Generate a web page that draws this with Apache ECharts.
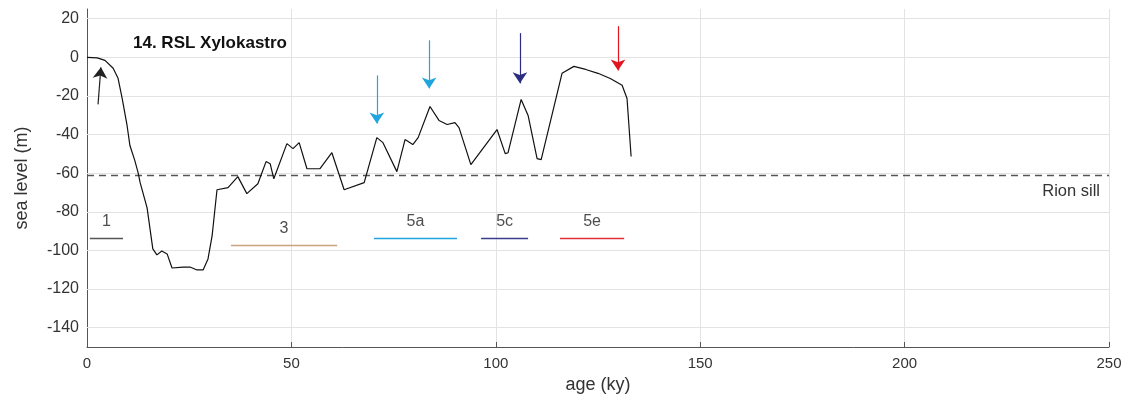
<!DOCTYPE html>
<html><head><meta charset="utf-8">
<script src="https://cdn.jsdelivr.net/npm/echarts@6/dist/echarts.min.js"></script>
<style>html,body{margin:0;padding:0;background:#fff}#c{width:1131px;height:402px}</style>
</head><body><div id="c"></div>
<script>
// ---- data ----
const ages = [0,2.5,4.4,6.4,7.6,8.6,9.8,10.5,11.7,12.5,13.0,14.7,16.1,17.1,18.3,19.6,20.8,23.5,25.2,26.9,28.4,29.6,30.6,31.8,34.5,36.9,39.1,41.8,43.8,44.8,45.7,48.9,50.4,51.9,53.8,57.0,59.9,62.9,67.8,70.9,72.4,75.8,77.8,79.7,81.0,83.9,86.1,88.1,90.0,91.0,93.9,100.3,102.3,103.0,106.2,107.9,110.1,111.1,116.2,119.1,122.0,125.0,128.0,130.9,132.1,133.1];
const seaLevel = [0,-0.3,-1.6,-5.7,-10.9,-21.3,-35.3,-45.7,-53.5,-59.7,-64.9,-78.0,-99.2,-102.3,-100.3,-101.8,-109.1,-108.6,-108.6,-110.1,-110.1,-104.4,-92.5,-68.6,-67.5,-61.8,-70.6,-65.5,-54.0,-55.1,-62.9,-44.7,-47.3,-44.2,-57.7,-57.7,-49.4,-68.6,-64.9,-41.6,-44.2,-59.2,-42.6,-45.2,-41.6,-25.5,-32.7,-34.8,-33.8,-36.4,-55.6,-37.4,-49.9,-49.4,-21.8,-30.1,-52.5,-53.0,-8.3,-4.7,-6.3,-8.3,-11.0,-14.5,-21.3,-51.4];
const rionSill = -61;
const yTicks = [20,0,-20,-40,-60,-80,-100,-120,-140];
const arrowAgesTail = [2.7,70.9,83.7,105.9,129.9];
const arrowAgesTip = [3.4,70.9,83.7,105.9,129.9];
const arrowTails = [-24.4,-9.4,8.8,12.5,16.1];
const arrowTips = [-5.2,-34.3,-16.1,-13.5,-6.8];
const stageNames = ['1','3','5a','5c','5e'];
const stageStart = [0.7,35.2,70.2,96.4,115.7];
const stageEnd = [8.8,61.2,90.5,107.9,131.4];
const stageLevel = [-93.5,-97.1,-93.5,-93.5,-93.5];
const stageLabelLevel = [-85,-88.5,-85,-85,-85];

// ---- styles ----
const arrowColors = ['#222','#1fa6df','#1fa6df','#2b2e80','#e2151f'];
const stageColors = ['#555','#c9a57f','#1fa6df','#3a3d8d','#e2303a'];
const gridColor = '#e3e3e3';
const axisColor = '#555';
const font = 'Liberation Sans, Arial, Helvetica, sans-serif';

const chart = echarts.init(document.getElementById('c'));
const curve = ages.map((a,i)=>[a,seaLevel[i]]);
chart.setOption({
  animation:false,
  textStyle:{fontFamily:font},
  grid:{left:87,right:22,top:9,bottom:55,containLabel:false},
  title:{text:'14. RSL Xylokastro',left:128,top:30,textStyle:{fontSize:17,fontWeight:'bold',color:'#111',fontFamily:font}},
  xAxis:{type:'value',min:0,max:250,interval:50,
    name:'age (ky)',nameLocation:'middle',nameGap:26,nameTextStyle:{fontSize:18,color:'#333',fontFamily:font},
    axisLine:{onZero:false,lineStyle:{color:axisColor,width:1}},
    axisTick:{inside:true,length:5,lineStyle:{color:axisColor}},
    axisLabel:{fontSize:15,color:'#333',margin:9,fontFamily:font},
    splitLine:{show:true,lineStyle:{color:gridColor,width:1}}},
  yAxis:{type:'value',min:-150,max:25,interval:10,
    name:'sea level (m)',nameLocation:'middle',nameGap:56,nameTextStyle:{fontSize:18,color:'#333',fontFamily:font},
    axisLine:{show:true,onZero:false,lineStyle:{color:axisColor,width:1}},
    axisTick:{show:true,inside:true,length:5,lineStyle:{color:axisColor},customValues:yTicks},
    axisLabel:{fontSize:16,color:'#333',margin:8,fontFamily:font,customValues:yTicks},
    splitLine:{show:false}},
  series:[
    {type:'line',data:curve,showSymbol:false,symbol:'none',lineStyle:{color:'#111',width:1.2},z:5,
     markLine:{silent:true,symbol:['none','none'],animation:false,
       data:[
         ...yTicks.map(v=>({yAxis:v,lineStyle:{color:gridColor,width:1,type:'solid'},label:{show:false}})),
         {yAxis:rionSill,lineStyle:{color:'#555',width:1.3,type:[7,5]},
          label:{show:true,position:'insideEndBottom',formatter:'Rion sill',fontSize:16.5,color:'#333',fontFamily:font,distance:[9,8]}}
       ]}},
    {type:'lines',coordinateSystem:'cartesian2d',symbol:['none','arrow'],symbolSize:[8,11],z:6,
     data:arrowTips.map((t,i)=>({coords:[[arrowAgesTail[i],arrowTails[i]],[arrowAgesTip[i],t]],lineStyle:{color:arrowColors[i],width:1.2,opacity:1}}))},
    {type:'lines',coordinateSystem:'cartesian2d',symbol:['none','none'],z:6,
     data:stageNames.map((n,i)=>({coords:[[stageStart[i],stageLevel[i]],[stageEnd[i],stageLevel[i]]],lineStyle:{color:stageColors[i],width:1.4,opacity:1}}))},
    {type:'scatter',symbolSize:0,z:7,
     data:stageNames.map((n,i)=>({value:[(stageStart[i]+stageEnd[i])/2,stageLabelLevel[i]],name:n})),
     label:{show:true,position:'inside',formatter:p=>p.name,fontSize:16,color:'#222',fontFamily:font}}
  ]
});
</script></body></html>
